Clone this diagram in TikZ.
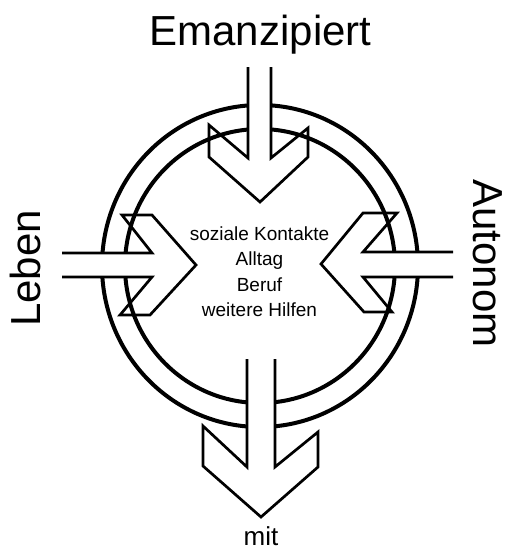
\documentclass[tikz,border=0pt]{standalone}
\usepackage{fontspec}
\setmainfont{Liberation Sans}

\begin{document}
\begin{tikzpicture}[
    x=1pt, y=-1pt,
    ring/.style={draw=black, line width=4pt},
    pfeil/.style={draw=black, line width=2.7pt, line join=miter},
    schaft/.style={fill=white},
    titel/.style={font=\fontsize{42}{50}\selectfont, inner sep=0pt, anchor=base},
    eintrag/.style={font=\fontsize{19}{23}\selectfont, inner sep=0pt, anchor=base}
  ]
  \useasboundingbox (0,0) rectangle (506,550);

  % ── ring ─────────────────────────────────────────────────────────
  \coordinate (M) at (260,266);
  \draw[ring] (M) ellipse [x radius=158, y radius=161];
  \draw[ring] (M) ellipse [x radius=135, y radius=137];

  % ── pfeil oben ───────────────────────────────────────────────────
  \fill[schaft] (248,67) rectangle (271,158);
  \draw[pfeil] (248,67) -- (248,158) -- (209,125) -- (209,157) -- (260,202)
    -- (308,157) -- (308,128) -- (271,158) -- (271,67);

  % ── pfeil links ──────────────────────────────────────────────────
  \fill[schaft] (62,253) rectangle (152,277);
  \draw[pfeil] (62,253) -- (152,253) -- (122,215) -- (152,215) -- (196,265)
    -- (150,315) -- (120,315) -- (152,277) -- (62,277);

  % ── pfeil rechts ─────────────────────────────────────────────────
  \fill[schaft] (363,252) rectangle (453,277);
  \draw[pfeil] (453,252) -- (363,252) -- (397,213) -- (363,213) -- (321,264)
    -- (364,312) -- (392,312) -- (363,277) -- (453,277);

  % ── pfeil unten ──────────────────────────────────────────────────
  \fill[schaft] (247,359) rectangle (275,467);
  \draw[pfeil] (247,359) -- (247,467) -- (203,426) -- (203,466) -- (261,517)
    -- (318,467) -- (318,432) -- (275,467) -- (275,359);

  % ── beschriftung ─────────────────────────────────────────────────
  \node[titel] (emanzipiert) at (260.5,45) {Emanzipiert};
  \node[titel, rotate=90] (leben) at (40,268.5) {Leben};
  \node[titel, rotate=-90] (autonom) at (473,263.5) {Autonom};
  \node[font=\fontsize{26}{30}\selectfont, inner sep=0pt, anchor=base]
    (mit) at (261,545) {mit};

  \node[eintrag] (kontakte) at (259.5,240)   {soziale Kontakte};
  \node[eintrag] (alltag)   at (259.5,265.5) {Alltag};
  \node[eintrag] (beruf)    at (259.5,291)   {Beruf};
  \node[eintrag] (hilfen)   at (259.5,316.5) {weitere Hilfen};

\end{tikzpicture}
\end{document}
